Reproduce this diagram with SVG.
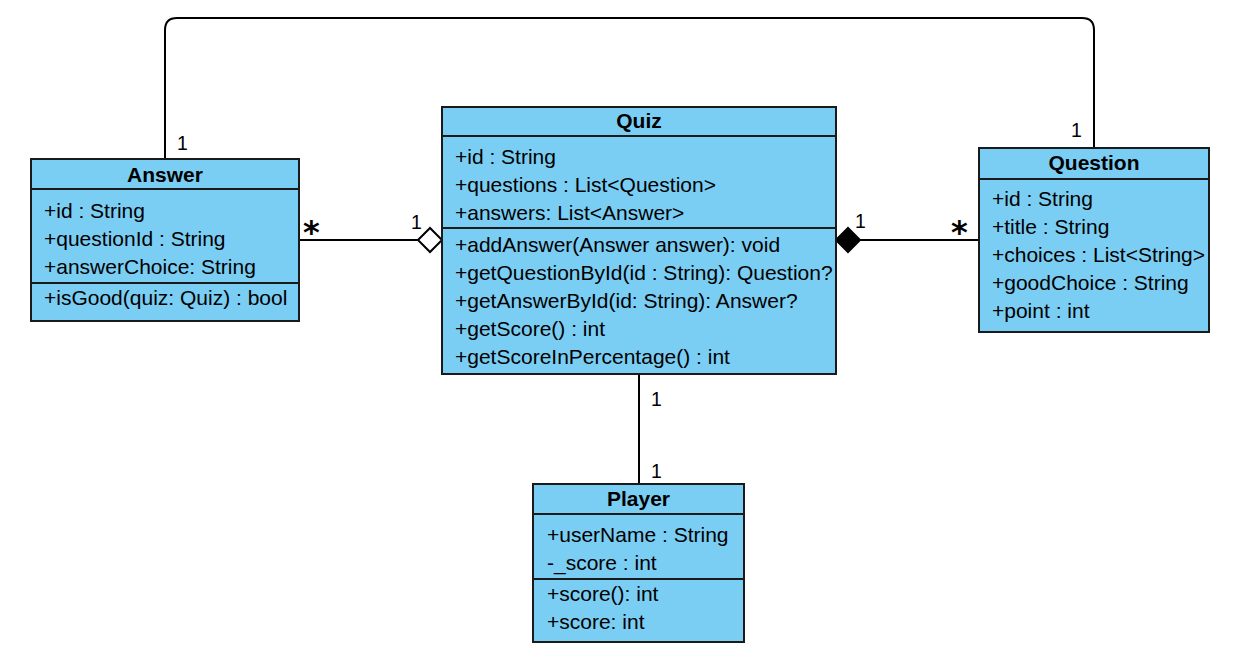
<svg xmlns="http://www.w3.org/2000/svg" width="1241" height="660" viewBox="0 0 1241 660">
<style>
.box{fill:#7ACEF4;stroke:#1a1a1a;stroke-width:2}
.sep{stroke:#1a1a1a;stroke-width:2;fill:none}
.t{font-family:"Liberation Sans",Arial,sans-serif;font-size:21px;fill:#000}
.h{font-family:"Liberation Sans",Arial,sans-serif;font-size:21px;font-weight:bold;fill:#000;text-anchor:middle}
.lbl{font-family:"Liberation Sans",Arial,sans-serif;font-size:19.5px;fill:#000}
.star{font-family:"DejaVu Sans",sans-serif;font-size:32px;font-weight:bold;fill:#000}
.ln{stroke:#000;stroke-width:2;fill:none}
</style>
<rect width="1241" height="660" fill="#fff"/>
<g id="connectors">
<path class="ln" d="M165,159 V30 Q165,18 177,18 H1082 Q1094,18 1094,30 V148"/>
<path class="ln" d="M299,240 H418"/>
<polygon points="418,240 430,228 442,240 430,252" fill="#fff" stroke="#000" stroke-width="2"/>
<path class="ln" d="M860,240 H979"/>
<polygon points="836,240 848,228 860,240 848,252" fill="#000" stroke="#000" stroke-width="2"/>
<path class="ln" d="M639,374 V484"/>
<text class="lbl" x="177" y="150">1</text>
<text class="lbl" x="1071" y="137">1</text>
<text class="star" x="303" y="243">*</text>
<text class="lbl" x="411" y="229">1</text>
<text class="lbl" x="855" y="228">1</text>
<text class="star" x="951" y="243">*</text>
<text class="lbl" x="651" y="406">1</text>
<text class="lbl" x="651" y="478">1</text>
</g>
<g id="answer">
<rect class="box" x="31" y="159" width="268" height="162"/>
<path class="sep" d="M31,189 H299 M31,283 H299"/>
<text class="h" x="165" y="182">Answer</text>
<text class="t" x="44" y="218">+id : String</text>
<text class="t" x="44" y="246">+questionId : String</text>
<text class="t" x="44" y="274">+answerChoice: String</text>
<text class="t" x="44" y="305">+isGood(quiz: Quiz) : bool</text>
</g>
<g id="quiz">
<rect class="box" x="442" y="107" width="394" height="267"/>
<path class="sep" d="M442,136 H836 M442,228 H836"/>
<text class="h" x="639" y="128">Quiz</text>
<text class="t" x="455" y="164">+id : String</text>
<text class="t" x="455" y="192">+questions : List&lt;Question&gt;</text>
<text class="t" x="455" y="220">+answers: List&lt;Answer&gt;</text>
<text class="t" x="455" y="252">+addAnswer(Answer answer): void</text>
<text class="t" x="455" y="280">+getQuestionById(id : String): Question?</text>
<text class="t" x="455" y="308">+getAnswerById(id: String): Answer?</text>
<text class="t" x="455" y="336">+getScore() : int</text>
<text class="t" x="455" y="364">+getScoreInPercentage() : int</text>
</g>
<g id="question">
<rect class="box" x="979" y="148" width="230" height="184"/>
<path class="sep" d="M979,179 H1209"/>
<text class="h" x="1094" y="170">Question</text>
<text class="t" x="992" y="206">+id : String</text>
<text class="t" x="992" y="234">+title : String</text>
<text class="t" x="992" y="262">+choices : List&lt;String&gt;</text>
<text class="t" x="992" y="290">+goodChoice : String</text>
<text class="t" x="992" y="318">+point : int</text>
</g>
<g id="player">
<rect class="box" x="533" y="484" width="211" height="158"/>
<path class="sep" d="M533,514 H744 M533,579 H744"/>
<text class="h" x="638.5" y="506">Player</text>
<text class="t" x="547" y="542">+userName : String</text>
<text class="t" x="547" y="570">-_score : int</text>
<text class="t" x="547" y="601">+score(): int</text>
<text class="t" x="547" y="629">+score: int</text>
</g>
</svg>
